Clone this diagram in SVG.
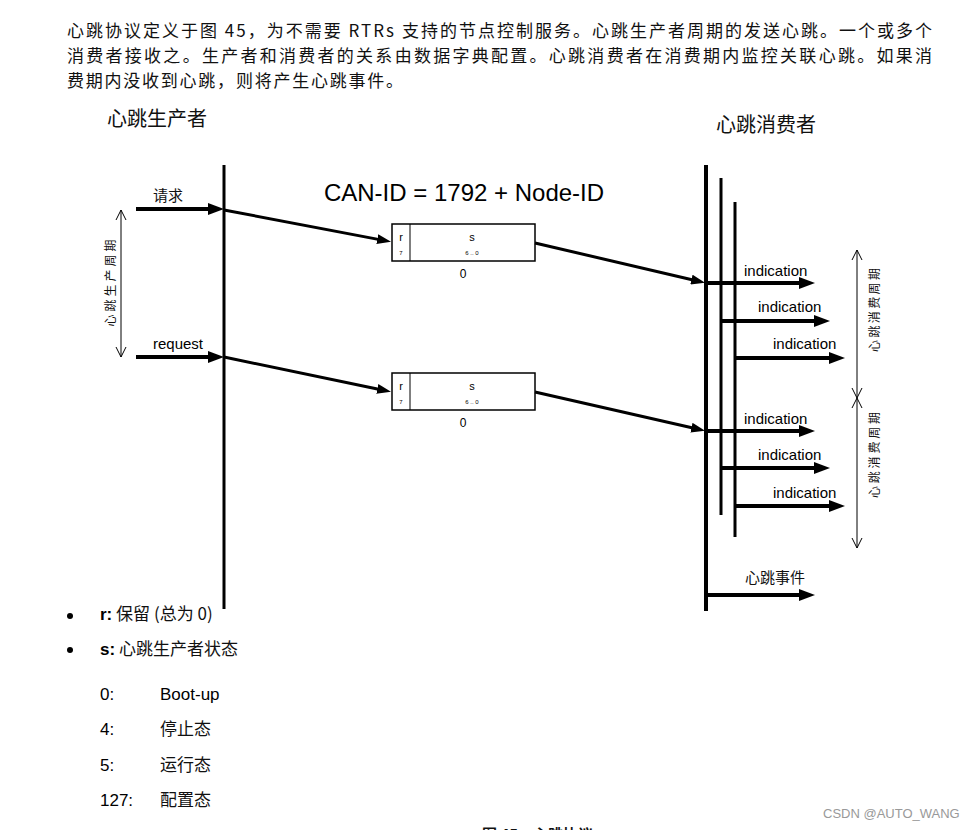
<svg xmlns="http://www.w3.org/2000/svg" width="975" height="830" viewBox="0 0 975 830">
<defs>
<style>
.cjk{font-family:"Noto Sans CJK SC","Liberation Sans",sans-serif;fill:#111}
.lat{font-family:"Liberation Sans","Noto Sans CJK SC",sans-serif;fill:#000}
.para{font-family:"Noto Sans CJK SC",sans-serif;font-size:17px;fill:#111}
.thick{stroke:#000;stroke-width:4;fill:none}
.diag{stroke:#000;stroke-width:3;fill:none}
.vline{stroke:#000;fill:none}
.thin{stroke:#000;stroke-width:1;fill:none}
.box{fill:#fff;stroke:#000;stroke-width:1.5}
</style>
<marker id="ah" viewBox="0 0 16 12" refX="6" refY="6" markerWidth="16" markerHeight="12" markerUnits="userSpaceOnUse" orient="auto">
<path d="M0,0 L16,6 L0,12 z" fill="#000"/>
</marker>
<marker id="ahs" viewBox="0 0 14 10" refX="5" refY="5" markerWidth="14" markerHeight="10" markerUnits="userSpaceOnUse" orient="auto">
<path d="M0,0 L14,5 L0,10 z" fill="#000"/>
</marker>
</defs>
<rect width="975" height="830" fill="#fff"/>

<g id="intro">
<text class="para" x="67" y="37" textLength="865" lengthAdjust="spacing">心跳协议定义于图 45，为不需要 RTRs 支持的节点控制服务。心跳生产者周期的发送心跳。一个或多个</text>
<text class="para" x="67" y="62" textLength="865" lengthAdjust="spacing">消费者接收之。生产者和消费者的关系由数据字典配置。心跳消费者在消费期内监控关联心跳。如果消</text>
<text class="para" x="67" y="87" textLength="336" lengthAdjust="spacing">费期内没收到心跳，则将产生心跳事件。</text>
</g>

<g id="producer">
<text class="cjk" x="107" y="126" font-size="20">心跳生产者</text>
<line class="vline" x1="224" y1="165" x2="224" y2="609" stroke-width="3"/>
</g>

<g id="consumer">
<text class="cjk" x="716" y="132" font-size="20">心跳消费者</text>
<line class="vline" x1="706" y1="165" x2="706" y2="611" stroke-width="4"/>
<line class="vline" x1="721" y1="178" x2="721" y2="515" stroke-width="3"/>
<line class="vline" x1="735" y1="202" x2="735" y2="537" stroke-width="3"/>
</g>

<g id="can-id">
<text class="lat" x="464" y="201" font-size="24" text-anchor="middle">CAN-ID = 1792 + Node-ID</text>
</g>

<g id="frame1">
<rect class="box" x="392" y="224" width="143" height="37"/>
<line class="thin" x1="410" y1="224" x2="410" y2="261" stroke-width="1.2"/>
<text class="lat" x="401" y="241" font-size="11" text-anchor="middle">r</text>
<text class="lat" x="401" y="255" font-size="6" text-anchor="middle">7</text>
<text class="lat" x="472" y="241" font-size="11" text-anchor="middle">s</text>
<text class="lat" x="472" y="255" font-size="6" text-anchor="middle">6 .. 0</text>
<text class="lat" x="463" y="278" font-size="12" text-anchor="middle">0</text>
</g>

<g id="frame2">
<rect class="box" x="392" y="373" width="143" height="37"/>
<line class="thin" x1="410" y1="373" x2="410" y2="410" stroke-width="1.2"/>
<text class="lat" x="401" y="390" font-size="11" text-anchor="middle">r</text>
<text class="lat" x="401" y="404" font-size="6" text-anchor="middle">7</text>
<text class="lat" x="472" y="390" font-size="11" text-anchor="middle">s</text>
<text class="lat" x="472" y="404" font-size="6" text-anchor="middle">6 .. 0</text>
<text class="lat" x="463" y="427" font-size="12" text-anchor="middle">0</text>
</g>

<g id="labels">
<text class="cjk" x="153" y="201" font-size="15">请求</text>
<text class="lat" x="153" y="349" font-size="15">request</text>
<text class="lat" x="744" y="276" font-size="15">indication</text>
<text class="lat" x="758" y="312" font-size="15">indication</text>
<text class="lat" x="773" y="349" font-size="15">indication</text>
<text class="lat" x="744" y="424" font-size="15">indication</text>
<text class="lat" x="758" y="460" font-size="15">indication</text>
<text class="lat" x="773" y="498" font-size="15">indication</text>
<text class="cjk" x="745" y="583" font-size="15">心跳事件</text>
<text class="cjk" font-size="12" transform="translate(115,283) rotate(-90)" text-anchor="middle" textLength="87" lengthAdjust="spacing">心跳生产周期</text>
<text class="cjk" font-size="12" transform="translate(879,310) rotate(-90)" text-anchor="middle" textLength="84" lengthAdjust="spacing">心跳消费周期</text>
<text class="cjk" font-size="12" transform="translate(879,455) rotate(-90)" text-anchor="middle" textLength="86" lengthAdjust="spacing">心跳消费周期</text>
</g>

<g id="connectors">
<line class="thick" x1="136" y1="209" x2="214" y2="209" marker-end="url(#ah)"/>
<line class="thick" x1="136" y1="357" x2="214" y2="357" marker-end="url(#ah)"/>
<line class="diag" x1="224" y1="210" x2="382.2" y2="240.1" marker-end="url(#ahs)"/>
<line class="diag" x1="224" y1="357" x2="382.2" y2="390" marker-end="url(#ahs)"/>
<line class="diag" x1="535" y1="243" x2="696.3" y2="280.7" marker-end="url(#ahs)"/>
<line class="diag" x1="535" y1="392" x2="696.3" y2="428.8" marker-end="url(#ahs)"/>
<line class="thick" x1="706" y1="283" x2="805" y2="283" marker-end="url(#ah)"/>
<line class="thick" x1="721" y1="321" x2="820" y2="321" marker-end="url(#ah)"/>
<line class="thick" x1="735" y1="358" x2="835" y2="358" marker-end="url(#ah)"/>
<line class="thick" x1="706" y1="431" x2="805" y2="431" marker-end="url(#ah)"/>
<line class="thick" x1="721" y1="468" x2="820" y2="468" marker-end="url(#ah)"/>
<line class="thick" x1="735" y1="506" x2="835" y2="506" marker-end="url(#ah)"/>
<line class="thick" x1="706" y1="595" x2="805" y2="595" marker-end="url(#ah)"/>
<line class="thin" x1="121" y1="210" x2="121" y2="357"/>
<polyline class="thin" points="116,220 121,210 126,220"/>
<polyline class="thin" points="116,347 121,357 126,347"/>
<line class="thin" x1="857" y1="250" x2="857" y2="548"/>
<polyline class="thin" points="852,260 857,250 862,260"/>
<polyline class="thin" points="852,388 857,398 862,388"/>
<polyline class="thin" points="852,408 857,398 862,408"/>
<polyline class="thin" points="852,538 857,548 862,538"/>
</g>

<g id="legend">
<circle cx="70" cy="616" r="3" fill="#000"/>
<circle cx="70" cy="650" r="3" fill="#000"/>
<text class="cjk" x="100" y="620" font-size="17"><tspan class="lat" font-weight="bold">r:</tspan> 保留 (总为 0)</text>
<text class="cjk" x="100" y="655" font-size="17"><tspan class="lat" font-weight="bold">s:</tspan> 心跳生产者状态</text>
<text class="lat" x="100" y="700" font-size="17">0:</text>
<text class="lat" x="160" y="700" font-size="17">Boot-up</text>
<text class="lat" x="100" y="735" font-size="17">4:</text>
<text class="cjk" x="160" y="735" font-size="17">停止态</text>
<text class="lat" x="100" y="771" font-size="17">5:</text>
<text class="cjk" x="160" y="771" font-size="17">运行态</text>
<text class="lat" x="100" y="806" font-size="17">127:</text>
<text class="cjk" x="160" y="806" font-size="17">配置态</text>
</g>

<g id="caption">
<text class="cjk" x="482" y="840" font-size="15" font-weight="bold">图 45　心跳协议</text>
</g>

<g id="watermark">
<text x="823" y="818" font-family="Liberation Sans,sans-serif" font-size="13" fill="#999">CSDN @AUTO_WANG</text>
</g>
</svg>
